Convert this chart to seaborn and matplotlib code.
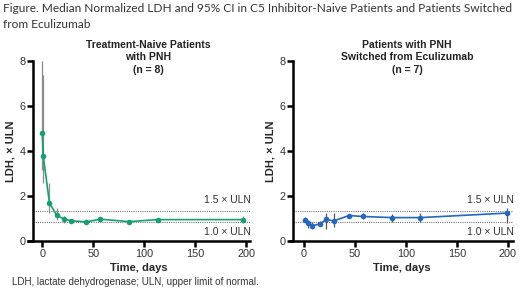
import numpy as np
import pandas as pd
import seaborn as sns
import matplotlib.pyplot as plt
import matplotlib.transforms as mtransforms

# ==================== DATA ====================
naive_days = [0, 1, 7, 14, 21, 28, 43, 57, 85, 113, 197]
naive_median = [4.78, 3.76, 1.70, 1.15, 0.98, 0.90, 0.85, 0.97, 0.86, 0.95, 0.95]
naive_lo = [3.15, 2.56, 1.26, 0.95, 0.78, 0.82, 0.78, 0.90, 0.80, 0.88, 0.79]
naive_hi = [8.00, 7.38, 2.56, 1.45, 1.10, 0.97, 0.92, 1.04, 0.92, 1.02, 1.11]

switch_days = [1, 4, 8, 16, 22, 29, 44, 58, 86, 114, 199]
switch_median = [0.95, 0.80, 0.67, 0.77, 0.96, 0.89, 1.13, 1.09, 1.04, 1.04, 1.24]
switch_lo = [0.85, 0.59, 0.55, 0.67, 0.52, 0.64, 1.05, 0.96, 0.84, 0.86, 0.79]
switch_hi = [1.05, 0.93, 0.85, 0.90, 1.23, 1.26, 1.22, 1.25, 1.20, 1.23, 1.45]

uln_levels = [1.35, 0.85]
uln_labels = ["1.5 × ULN", "1.0 × ULN"]

panel_titles = ["Treatment-Naive Patients\nwith PNH\n(n = 8)",
                "Patients with PNH\nSwitched from Eculizumab\n(n = 7)"]

GREEN = "#16a070"
BLUE = "#2467bd"

# ==================== STYLE ====================
sns.set_theme(style="ticks")
plt.rcParams['font.family'] = ['Liberation Sans', 'DejaVu Sans']

fig = plt.figure(figsize=(5.2, 2.97), dpi=100)

panels = [
    (naive_days, naive_median, naive_lo, naive_hi, GREEN, "#8a8a8a",
     [28 / 520, 56 / 297, 222 / 520, 180 / 297], (-14, 203.6), -8.8, 148),
    (switch_days, switch_median, switch_lo, switch_hi, BLUE, "#555555",
     [290 / 520, 56 / 297, 223 / 520, 180 / 297], (-13.7, 205), -10.8, 407),
]

for i, (days, med, lo, hi, col, ecol, rect, xlim, yspine, tx) in enumerate(panels):
    ax = fig.add_axes(rect)
    df = pd.DataFrame({"day": days, "ldh": med})

    ax.vlines(days, lo, hi, color=ecol, lw=0.9, zorder=2)
    sns.lineplot(data=df, x="day", y="ldh", ax=ax, color=col, lw=1.2,
                 marker="o", markersize=4, markeredgewidth=0, zorder=3)

    for lvl in uln_levels:
        ax.hlines(lvl, yspine, xlim[1], colors="#777777", linestyles=(0, (1, 1)),
                  lw=0.8, zorder=1)
    trans = mtransforms.blended_transform_factory(ax.transAxes, ax.transData)
    ax.text(1.005, 1.82, uln_labels[0], transform=trans, ha="right", va="center",
            fontsize=7.5, color="#333333")
    ax.text(1.005, 0.42, uln_labels[1], transform=trans, ha="right", va="center",
            fontsize=7.5, color="#333333")

    ax.set_xlim(*xlim)
    ax.set_ylim(0, 8)
    ax.set_xticks([0, 50, 100, 150, 200])
    ax.set_yticks([0, 2, 4, 6, 8])
    ax.spines['left'].set_position(('data', yspine))
    ax.spines['left'].set_bounds(0, 8)
    for s in ['left', 'bottom']:
        ax.spines[s].set_linewidth(1.8)
        ax.spines[s].set_color("black")
    sns.despine(ax=ax)
    ax.tick_params(axis='both', length=4, width=1.8, color="black",
                   labelsize=7.8, labelcolor="#333333", pad=1.5)
    ax.set_xlabel("Time, days", fontsize=8, fontweight="bold", labelpad=3)
    ax.set_ylabel("LDH, × ULN", fontsize=8, fontweight="bold", labelpad=3)

    fig.text(tx / 520, 1 - 40 / 297, panel_titles[i], ha="center", va="top",
             fontsize=7.5, fontweight="bold", color="#222222", linespacing=1.3)

fig.text(3 / 520, 1 - 3 / 297,
         "Figure. Median Normalized LDH and 95% CI in C5 Inhibitor-Naive Patients and Patients Switched\nfrom Eculizumab",
         ha="left", va="top", fontsize=8.6, color="#333333", family=["Lato", "DejaVu Sans"],
         linespacing=1.6)

fig.text(12 / 520, 1 - 282 / 297, "LDH, lactate dehydrogenase; ULN, upper limit of normal.",
         ha="left", va="center", fontsize=7.1, color="#333333")

fig.savefig("out.png", dpi=100)
